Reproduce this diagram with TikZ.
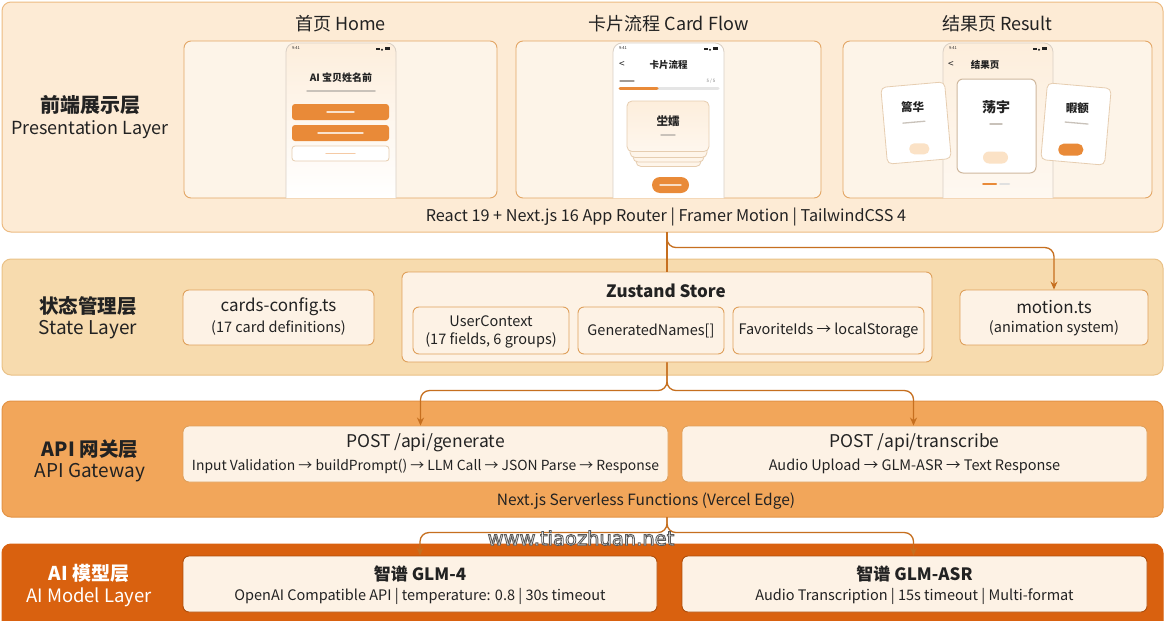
\documentclass[tikz,border=0pt]{standalone}
\usepackage{fontspec}
\setmainfont{Noto Sans CJK SC}
\newfontfamily\wmfont{DejaVu Sans}
\usetikzlibrary{arrows.meta,calc}
\definecolor{presfill}{HTML}{FDEBD5}
\definecolor{presline}{HTML}{EDBB82}
\definecolor{panelfill}{HTML}{FDF4E8}
\definecolor{panelline}{HTML}{E3A665}
\definecolor{statefill}{HTML}{F7DBAE}
\definecolor{stateline}{HTML}{EAC186}
\definecolor{apifill}{HTML}{F2A65A}
\definecolor{apiline}{HTML}{E39345}
\definecolor{aifill}{HTML}{D9610F}
\definecolor{boxfill}{HTML}{FDF2E5}
\definecolor{boxline}{HTML}{DFA05C}
\definecolor{connc}{HTML}{C66F1F}
\definecolor{txt}{HTML}{222222}
\definecolor{btn}{HTML}{E98A38}
\definecolor{phonetop}{HTML}{FDEEDC}
\definecolor{phoneline}{HTML}{D9CFC4}
\definecolor{cardline}{HTML}{E6CDB0}
\definecolor{pillpeach}{HTML}{FBE2C6}
\definecolor{smallgray}{HTML}{C9C2BA}
\newcommand\fs[1]{\fontsize{#1}{#1}\selectfont}
\newcommand\statusbar[2]{%
  \node[t,font=\fs{4}] at (#1+10,48.5) {9:41};
  \fill[txt] (#2-20,49.8) rectangle (#2-16,47.8);
  \fill[txt] (#2-14,49.8) circle (1.1);
  \fill[txt] (#2-11,50) rectangle (#2-6,47.4);
}
\begin{document}
\begin{tikzpicture}[x=1pt,y=-1pt,
  layer/.style={rounded corners=9, line width=1, inner sep=0, outer sep=0},
  panel/.style={rounded corners=7, fill=panelfill, draw=panelline, line width=0.9, inner sep=0},
  box/.style={rounded corners=6, fill=boxfill, draw=boxline, line width=0.9, inner sep=0},
  t/.style={text=txt, inner sep=0},
  conn/.style={draw=connc, line width=1.3, rounded corners=9},
  arr/.style={-{Stealth[length=8pt,width=7pt]}},
  bar/.style={line width=1.7, line cap=round},
  pcard/.style={rounded corners=5, fill=white, draw=cardline, line width=0.8},
]
\clip (0,0) rectangle (1165,621);
\fill[white] (0,0) rectangle (1165,621);

% ===== layers =====
\node[layer, fill=presfill, draw=presline, minimum width=1161, minimum height=230] (pres) at (582.5,117) {};
\node[layer, fill=statefill, draw=stateline, minimum width=1161, minimum height=116] (state) at (582.5,317) {};
\node[layer, fill=apifill, draw=apiline, minimum width=1161, minimum height=116] (api) at (582.5,459) {};
\node[layer, fill=aifill, draw=aifill, minimum width=1161, minimum height=90] (ai) at (582.5,589) {};

% ===== presentation layer =====
\node[t, font=\fs{20}\bfseries] (preszh) at (90,105) {前端展示层};
\node[t, font=\fs{18}] (presen) at (90,130) {Presentation Layer};

\node[t, font=\fs{18}] (homet) at (340.5,24) {首页 Home};
\node[t, font=\fs{18}] (cardt) at (668.5,24) {卡片流程 Card Flow};
\node[t, font=\fs{18}] (rest) at (997.5,24) {结果页 Result};

\node[panel, minimum width=313, minimum height=157] (homep) at (340.5,119.5) {};
\node[panel, minimum width=305, minimum height=157] (cardp) at (668.5,119.5) {};
\node[panel, minimum width=309, minimum height=157] (resp) at (997.5,119.5) {};

\node[t, font=\fs{16.2}] (stack) at (666,217) {React 19 + Next.js 16 App Router | Framer Motion | TailwindCSS 4};

% --- home phone ---
\shadedraw[top color=phonetop, bottom color=white, draw=phoneline, line width=0.8, rounded corners=9] (286,198) |- (396,43) -- (396,198);
\statusbar{286}{396}
\node[t, font=\fs{10}\bfseries] (hometitle) at (341,78) {AI 宝贝姓名前};
\draw[bar, smallgray, line width=1.5] (307,91) -- (375,91);
\node[rounded corners=3, fill=btn, minimum width=97, minimum height=16, inner sep=0] (hb1) at (340.5,112) {};
\node[rounded corners=3, fill=btn, minimum width=97, minimum height=16, inner sep=0] (hb2) at (340.5,133) {};
\node[rounded corners=3, fill=white, draw=cardline, line width=0.8, minimum width=97, minimum height=15, inner sep=0] (hb3) at (340.5,153.5) {};
\draw[bar, white!75!btn, line width=1.4] (327,112) -- (354,112);
\draw[bar, white!75!btn, line width=1.4] (318,133) -- (363,133);
\draw[bar, btn!45, line width=1.4] (326,153.5) -- (355,153.5);

% --- card flow phone ---
\shadedraw[top color=white, bottom color=white, draw=phoneline, line width=0.8, rounded corners=9] (613,198) |- (724,43) -- (724,198);
\statusbar{613}{724}
\node[t, font=\fs{10}] at (622,65) {<};
\node[t, font=\fs{9.5}\bfseries] (cardtitle) at (668.5,65) {卡片流程};
\draw[bar, smallgray!80!black, line width=1.3] (620,81) -- (634,81);
\node[t, font=\fs{4.5}, text=gray] at (711,81) {5 / 5};
\draw[line width=3, black!10, line cap=round] (620,88) -- (718,88);
\draw[line width=3, btn, line cap=round] (620,88) -- (657,88);
\draw[pcard, fill=phonetop!60] (636,148) rectangle (701,166.5);
\draw[pcard, fill=phonetop!60] (633,144) rectangle (704,162);
\draw[pcard, fill=phonetop!60] (630,140) rectangle (707,157.5);
\shadedraw[rounded corners=5, top color=phonetop, bottom color=phonetop!50, draw=cardline, line width=0.8] (627,101) rectangle (709,151.5);
\node[t, font=\fs{11.5}\bfseries] (cardname) at (668,121) {坣嬬};
\draw[bar, smallgray, line width=1.4] (661,135) -- (675,135);
\node[rounded corners=8, fill=btn, minimum width=37, minimum height=16, inner sep=0] (cardbtn) at (670.5,185) {};
\draw[bar, white!70!btn, line width=1.4] (660,185) -- (681,185);

% --- result phone ---
\shadedraw[top color=phonetop, bottom color=phonetop!40, draw=phoneline, line width=0.8, rounded corners=9] (943,198) |- (1053,43) -- (1053,198);
\statusbar{943}{1053}
\node[t, font=\fs{10}] at (951,65) {<};
\node[t, font=\fs{9.5}\bfseries] (restitle) at (985,65) {结果页};
\begin{scope}[shift={(916,123)}, rotate=5]
  \draw[pcard, fill=white] (-32,-38.5) rectangle (32,38.5);
  \node[t, font=\fs{11.5}\bfseries] (lname) at (-2,-16) {篙华};
  \draw[bar, smallgray, line width=1.3] (-13,-1) -- (9,-1);
  \node[rounded corners=5, fill=pillpeach, minimum width=20, minimum height=11, inner sep=0] (lpill) at (1,26) {};
\end{scope}
\begin{scope}[shift={(1076,124)}, rotate=-5]
  \draw[pcard, fill=white] (-32,-38.5) rectangle (32,38.5);
  \node[t, font=\fs{11.5}\bfseries] (rname) at (0,-16) {暇额};
  \draw[bar, smallgray, line width=1.3] (-11,-1) -- (12,-1);
  \node[rounded corners=5.5, fill=btn, minimum width=25, minimum height=12, inner sep=0] (rpill) at (-3,26) {};
\end{scope}
\shadedraw[rounded corners=6, top color=white, bottom color=white, draw=cardline!90!black, line width=1] (957,79) rectangle (1036,173);
\node[t, font=\fs{14}\bfseries] (cname) at (996,107) {荡宇};
\draw[bar, smallgray, line width=1.4] (990,124) -- (1002,124);
\node[rounded corners=6, fill=pillpeach, minimum width=25, minimum height=12, inner sep=0] (cpill) at (995.5,157.5) {};
\draw[line width=2, btn, line cap=round] (983,184) -- (996,184);
\draw[line width=2, black!12, line cap=round] (1000,184) -- (1009,184);

% ===== state layer =====
\node[t, font=\fs{19.5}\bfseries] (statezh) at (88,306) {状态管理层};
\node[t, font=\fs{19}] (stateen) at (88,330) {State Layer};
\node[box, minimum width=191, minimum height=55] (cfg) at (278.5,317.5) {};
\node[t, font=\fs{17}] at (278.5,307) {cards-config.ts};
\node[t, font=\fs{14.5}] at (278.5,328) {(17 card definitions)};
\node[box, minimum width=530, minimum height=90] (zus) at (667,317) {};
\node[t, font=\fs{17}\bfseries] at (666,291) {Zustand Store};
\node[box, minimum width=156, minimum height=47] (uc) at (491,330.5) {};
\node[t, font=\fs{14.5}] at (491,321) {UserContext};
\node[t, font=\fs{14.5}] at (491,340) {(17 fields, 6 groups)};
\node[box, minimum width=146, minimum height=47] (gn) at (651,330.5) {};
\node[t, font=\fs{14.5}] at (651,330.5) {GeneratedNames[]};
\node[box, minimum width=191, minimum height=47] (fav) at (828.5,330.5) {};
\node[t, font=\fs{14.5}] at (828.5,330.5) {FavoriteIds → localStorage};
\node[box, minimum width=188, minimum height=55] (motion) at (1054,317.5) {};
\node[t, font=\fs{17}] at (1054,307) {motion.ts};
\node[t, font=\fs{14.5}] at (1054,328) {(animation system)};

% ===== API layer =====
\node[t, font=\fs{19.5}\bfseries] (apizh) at (90,449) {API 网关层};
\node[t, font=\fs{19}] (apien) at (90,473) {API Gateway};
\node[box, minimum width=485, minimum height=56] (gen) at (425.5,454) {};
\node[t, font=\fs{17.5}] at (425.5,443) {POST /api/generate};
\node[t, font=\fs{13.9}] at (425.5,466) {Input Validation → buildPrompt() → LLM Call → JSON Parse → Response};
\node[box, minimum width=465, minimum height=56] (tra) at (914.5,454) {};
\node[t, font=\fs{17.5}] at (914.5,443) {POST /api/transcribe};
\node[t, font=\fs{14.5}] at (914.5,466) {Audio Upload → GLM-ASR → Text Response};
\node[t, font=\fs{15.5}] (edge) at (646,501) {Next.js Serverless Functions (Vercel Edge)};

% ===== AI layer =====
\node[t, font=\fs{19}\bfseries, text=white] (aizh) at (89,573) {AI 模型层};
\node[t, font=\fs{18.5}, text=white] (aien) at (89,597) {AI Model Layer};
\node[box, minimum width=474, minimum height=56, draw=aifill!80!black] (glm) at (420,584) {};
\node[t, font=\fs{17}\bfseries] at (420,574) {智谱 GLM-4};
\node[t, font=\fs{14.5}] at (420,596) {OpenAI Compatible API | temperature: 0.8 | 30s timeout};
\node[box, minimum width=465, minimum height=56, draw=aifill!80!black] (asr) at (914.5,584) {};
\node[t, font=\fs{17}\bfseries] at (914.5,574) {智谱 GLM-ASR};
\node[t, font=\fs{14.5}] at (914.5,596) {Audio Transcription | 15s timeout | Multi-format};

% ===== connectors =====
\coordinate (j1) at (667,236);
\draw[conn] (pres.south -| zus.north) -- (zus.north);
\draw[conn, arr] (j1) |- ($(motion.north)+(0,-42)$) -- (motion.north);
\draw[conn, arr] (zus.south) |- ($(gen.north)+(-5,-35)$) -- ($(gen.north)+(-5,0)$);
\draw[conn, arr] (zus.south) |- ($(tra.north)+(-1,-35)$) -- ($(tra.north)+(-1,0)$);
\draw[conn, arr] (api.south -| zus.south) |- ($(glm.north)+(0,-23)$) -- (glm.north);
\draw[conn, arr] (api.south -| zus.south) |- ($(asr.north)+(-1,-23)$) -- ($(asr.north)+(-1,0)$);

% ===== watermark (white text, grey outline via text render mode 2) =====
\node[inner sep=0, font=\wmfont\fs{19.5}, text=white] (wm) at (581,538) {\special{pdf:literal direct 2 Tr 0.35 G 0.9 w}www.tiaozhuan.net\special{pdf:literal direct 0 Tr}};
\end{tikzpicture}
\end{document}
